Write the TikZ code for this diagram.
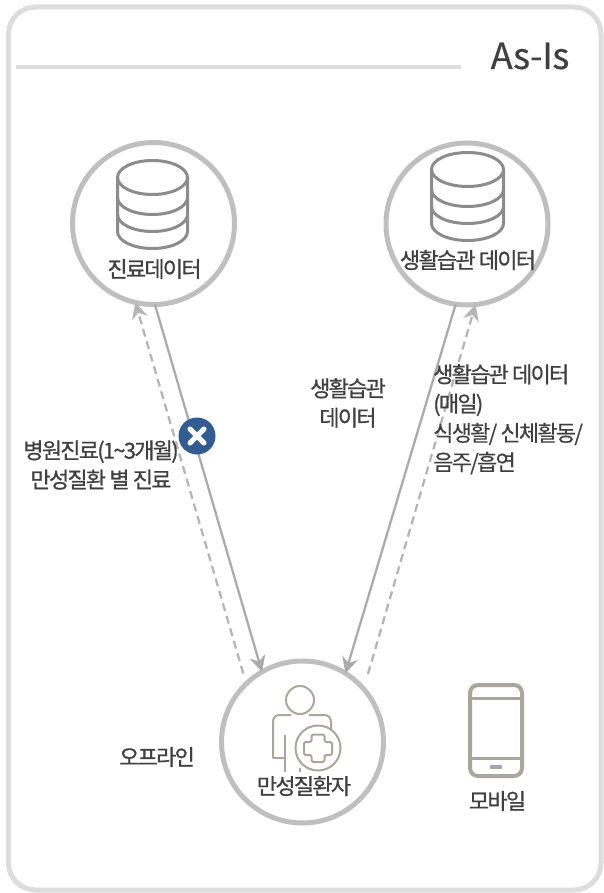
\documentclass[tikz,border=0pt]{standalone}
\usepackage{fontspec}
\newfontfamily\kr[LetterSpace=-8,FakeBold=0.8]{Noto Sans CJK KR}
\newfontfamily\krl[LetterSpace=-8,FakeBold=0.2]{Noto Sans CJK KR}
\newfontfamily\krt[LetterSpace=-1,FakeBold=0.5]{Noto Sans CJK KR}
\definecolor{ringc}{HTML}{BFBFBF}
\definecolor{framec}{HTML}{DDDDDD}
\definecolor{linec}{HTML}{ABABAB}
\definecolor{dashc}{HTML}{B5B5B5}
\definecolor{dbc}{HTML}{8C8C8C}
\definecolor{iconc}{HTML}{A9A69C}
\definecolor{txtc}{HTML}{404040}
\definecolor{badgec}{HTML}{335C92}
\usetikzlibrary{arrows.meta}
\tikzset{
 ring/.style={circle,draw=ringc,line width=5pt,fill=white,minimum size=162pt,inner sep=0pt,outer sep=0pt},
 lbl/.style={font=\kr\fontsize{22}{29.3}\selectfont,text=txtc,align=center,inner sep=0pt},
 solidconn/.style={draw=linec,line width=2.3pt,-{Stealth[length=16pt,width=16pt]}},
 dashconn/.style={draw=dashc,line width=2.3pt,dash pattern=on 8pt off 5pt,-{Stealth[length=16pt,width=16pt]}},
 dbicon/.style={draw=dbc,line width=3pt},
 person/.style={draw=iconc,line width=2pt},
 phone/.style={draw=iconc,line width=4pt}
}
\newcommand{\dbdraw}[3]{%
 \begin{scope}[shift={(#1,#2)}]
  \draw[dbicon] (0,0) ellipse[x radius=#3,y radius=17];
  \draw[dbicon] (-#3,0) -- (-#3,54) arc[start angle=180,end angle=0,x radius=#3,y radius=17] -- (#3,0);
  \draw[dbicon] (-#3,20) arc[start angle=180,end angle=0,x radius=#3,y radius=17];
  \draw[dbicon] (-#3,37) arc[start angle=180,end angle=0,x radius=#3,y radius=17];
 \end{scope}}
\begin{document}
\begin{tikzpicture}[x=1pt,y=-1pt]
\useasboundingbox (0,0) rectangle (603,893);
\draw[framec,line width=5pt,rounded corners=27pt] (8.5,7) rectangle (601,890);
\draw[framec,line width=3.5pt] (16,67) -- (461,67);
\node[lbl,font=\krt\fontsize{36}{38}\selectfont,anchor=center] (title) at (530,56) {As-Is};

\node[ring] (L) at (153.5,223.5) {};
\node[ring] (R) at (467,224) {};
\node[ring] (B) at (302.5,742) {};

\dbdraw{152.5}{177.5}{35}
\dbdraw{467.5}{169.5}{36}
\node[lbl] (ltext) at (154.5,269) {진료데이터};
\node[lbl] (rtext) at (468,260) {생활습관 데이터};

% patient icon
\draw[person] (300,700) circle[radius=14];
\draw[person] (273,758) -- (273,722) .. controls (273,717) and (276,715) .. (280,715) -- (291,715);
\draw[person] (309,715) -- (324,715) .. controls (329,715) and (331,718) .. (331,723) -- (331,730);
\draw[person] (273,758) -- (285,758);
\draw[person] (285,735) -- (285,772);
\draw[person] (300,768) -- (300,772);
\draw[person] (318,748) circle[radius=22.5];
\draw[person,line join=round,rounded corners=2pt] (311.5,734.5) -- (324.5,734.5) -- (324.5,742) -- (332,742) -- (332,755) -- (324.5,755) -- (324.5,762) -- (311.5,762) -- (311.5,755) -- (304,755) -- (304,742) -- (311.5,742) -- cycle;
\node[lbl] (btext) at (304,786) {만성질환자};

% phone
\draw[phone,rounded corners=8pt] (470,685) rectangle (522,776);
\draw[iconc,line width=3pt] (470,698) -- (522,698);
\draw[iconc,line width=3pt] (470,758) -- (522,758);
\draw[iconc,line width=3.5pt] (490,767) -- (502,767);
\node[lbl] (mobile) at (497.5,801) {모바일};

% connectors
\draw[solidconn] (L.-89) -- (B.120);
\draw[dashconn,shorten <=10.6pt] (B.134.5) -- (L.-103.6);
\draw[solidconn] (R.-98) -- (B.58);
\draw[dashconn,shorten <=15.5pt] (B.41) -- (R.-84);

% badge
\node[circle,fill=badgec,minimum size=37pt,inner sep=0pt] (badge) at (197,436) {};
\draw[white,line width=5pt,line cap=round] ([shift={(-7,-7)}]badge.center) -- ([shift={(7,7)}]badge.center);
\draw[white,line width=5pt,line cap=round] ([shift={(-7,7)}]badge.center) -- ([shift={(7,-7)}]badge.center);

% labels
\node[lbl] (t1) at (101,465) {병원진료(1\textasciitilde 3개월)\\만성질환 별 진료};
\node[lbl] (t2) at (348,403) {생활습관\\데이터};
\node[lbl,align=left,anchor=north west] (t3) at (433,364) {생활습관 데이터\\(매일)\\{\krl 식생활/ 신체활동/}\\{\krl 음주/흡연}};
\node[lbl] (t4) at (157,757) {오프라인};
\end{tikzpicture}
\end{document}
